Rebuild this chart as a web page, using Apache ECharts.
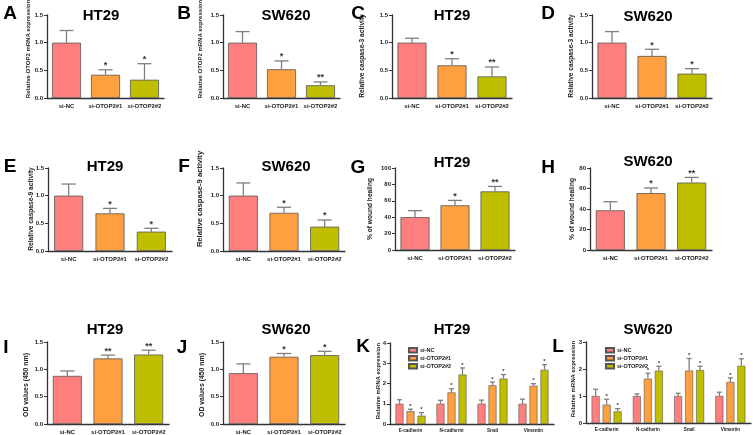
<!DOCTYPE html>
<html><head><meta charset="utf-8">
<script src="https://cdn.jsdelivr.net/npm/echarts@6/dist/echarts.min.js"></script>
<style>html,body{margin:0;padding:0;background:#fff}#c{width:753px;height:435px}</style>
</head><body><div id="c"></div>
<script>
// ---------------- DATA ----------------
const groups = ['si-NC', 'si-OTOP2#1', 'si-OTOP2#2'];
const genes = ['E-cadherin', 'N-cadherin', 'Snail', 'Vimentin'];

// A: OTOP2 mRNA, HT29
const otop2HT29Mean = [1.00, 0.42, 0.33];
const otop2HT29Err  = [0.22, 0.09, 0.29];
const otop2HT29Sig  = ['', '*', '*'];
// B: OTOP2 mRNA, SW620
const otop2SW620Mean = [1.00, 0.52, 0.23];
const otop2SW620Err  = [0.20, 0.15, 0.06];
const otop2SW620Sig  = ['', '*', '**'];
// C: caspase-3, HT29
const casp3HT29Mean = [1.00, 0.59, 0.39];
const casp3HT29Err  = [0.08, 0.12, 0.17];
const casp3HT29Sig  = ['', '*', '**'];
// D: caspase-3, SW620
const casp3SW620Mean = [1.00, 0.76, 0.44];
const casp3SW620Err  = [0.20, 0.12, 0.09];
const casp3SW620Sig  = ['', '*', '*'];
// E: caspase-9, HT29
const casp9HT29Mean = [1.00, 0.68, 0.35];
const casp9HT29Err  = [0.21, 0.09, 0.06];
const casp9HT29Sig  = ['', '*', '*'];
// F: caspase-9, SW620
const casp9SW620Mean = [1.00, 0.69, 0.44];
const casp9SW620Err  = [0.23, 0.10, 0.12];
const casp9SW620Sig  = ['', '*', '*'];
// G: wound healing, HT29
const woundHT29Mean = [40.0, 54.5, 71.5];
const woundHT29Err  = [8.0, 6.0, 6.0];
const woundHT29Sig  = ['', '*', '**'];
// H: wound healing, SW620
const woundSW620Mean = [38.7, 55.5, 65.8];
const woundSW620Err  = [8.4, 5.0, 5.0];
const woundSW620Sig  = ['', '*', '**'];
// I: OD values, HT29
const odHT29Mean = [0.88, 1.20, 1.27];
const odHT29Err  = [0.09, 0.06, 0.08];
const odHT29Sig  = ['', '**', '**'];
// J: OD values, SW620
const odSW620Mean = [0.93, 1.23, 1.26];
const odSW620Err  = [0.17, 0.06, 0.07];
const odSW620Sig  = ['', '*', '*'];

// K: EMT markers, HT29 (per group, over genes)
const emtHT29NC    = [1.00, 1.00, 1.00, 1.00];
const emtHT29NCErr = [0.20, 0.17, 0.18, 0.23];
const emtHT29S1    = [0.63, 1.56, 1.91, 1.89];
const emtHT29S1Err = [0.10, 0.18, 0.16, 0.10];
const emtHT29S2    = [0.41, 2.44, 2.24, 2.68];
const emtHT29S2Err = [0.15, 0.33, 0.20, 0.25];
// L: EMT markers, SW620
const emtSW620NC    = [1.00, 1.00, 1.00, 1.00];
const emtSW620NCErr = [0.25, 0.08, 0.10, 0.14];
const emtSW620S1    = [0.68, 1.64, 1.94, 1.52];
const emtSW620S1Err = [0.20, 0.20, 0.45, 0.15];
const emtSW620S2    = [0.43, 1.94, 1.96, 2.12];
const emtSW620S2Err = [0.10, 0.16, 0.14, 0.26];
const emtSig = ['', '*', '*'];

// ---------------- STYLE / LAYOUT ----------------
const FONT = '"Liberation Sans", Arial, Helvetica, sans-serif';
const colors = ['#FF7F7F', '#FFA040', '#BFBF00'];
const axisColor = '#333';
const errColor = '#7f7f7f';
const txt = '#222';

const simplePanels = [
  {letter:'A', lx:10, ly:14, title:'HT29', tx:101, ty:16, grid:[47,15,117,83], yName:'Relative OTOP2 mRNA expression', nx:28, ny:49, nfs:6, max:1.5, step:0.5, dec:1, mean:otop2HT29Mean, err:otop2HT29Err, sig:otop2HT29Sig},
  {letter:'B', lx:184, ly:14, title:'SW620', tx:286, ty:16, grid:[223,15,117,83], yName:'Relative OTOP2 mRNA expression', nx:200, ny:49, nfs:6, max:1.5, step:0.5, dec:1, mean:otop2SW620Mean, err:otop2SW620Err, sig:otop2SW620Sig},
  {letter:'C', lx:358, ly:14, title:'HT29', tx:452, ty:16, grid:[392,15,120,83], yName:'Relative caspase-3 activity', nx:362, ny:56, nfs:6.6, max:1.5, step:0.5, dec:1, mean:casp3HT29Mean, err:casp3HT29Err, sig:casp3HT29Sig},
  {letter:'D', lx:548, ly:14, title:'SW620', tx:648, ty:17, grid:[592,15,120,83], yName:'Relative caspase-3 activity', nx:571, ny:56, nfs:6.6, max:1.5, step:0.5, dec:1, mean:casp3SW620Mean, err:casp3SW620Err, sig:casp3SW620Sig},
  {letter:'E', lx:10, ly:167, title:'HT29', tx:105, ty:167, grid:[48,168,124,83], yName:'Relative caspase-9 activity', nx:31, ny:209, nfs:6.6, max:1.5, step:0.5, dec:1, mean:casp9HT29Mean, err:casp9HT29Err, sig:casp9HT29Sig},
  {letter:'F', lx:184, ly:167, title:'SW620', tx:286, ty:167, grid:[223,168,122,83], yName:'Relative caspase-9 activity', nx:200, ny:199, nfs:7.6, max:1.5, step:0.5, dec:1, mean:casp9SW620Mean, err:casp9SW620Err, sig:casp9SW620Sig},
  {letter:'G', lx:358, ly:168, title:'HT29', tx:452, ty:163, grid:[395,168,120,82], yName:'% of wound healing', nx:370, ny:209, nfs:6.6, max:100, step:20, dec:0, mean:woundHT29Mean, err:woundHT29Err, sig:woundHT29Sig},
  {letter:'H', lx:548, ly:168, title:'SW620', tx:648, ty:162, grid:[590,168,122,82], yName:'% of wound healing', nx:572, ny:209, nfs:6.6, max:80, step:20, dec:0, mean:woundSW620Mean, err:woundSW620Err, sig:woundSW620Sig},
  {letter:'I', lx:6, ly:348, title:'HT29', tx:105, ty:330, grid:[47,342,122,83], yName:'OD values (450 nm)', nx:26, ny:385, nfs:6.9, max:1.5, step:0.5, dec:1, mean:odHT29Mean, err:odHT29Err, sig:odHT29Sig},
  {letter:'J', lx:182, ly:348, title:'SW620', tx:286, ty:330, grid:[223,342,122,83], yName:'OD values (450 nm)', nx:202, ny:385, nfs:6.9, max:1.5, step:0.5, dec:1, mean:odSW620Mean, err:odSW620Err, sig:odSW620Sig}
];

const groupPanels = [
  {letter:'K', lx:363, ly:347, title:'HT29', tx:452, ty:330, grid:[390,343,164,81], yName:'Relative mRNA expression', nx:378, ny:381, nfs:6, max:4, step:1, dec:0, legendLeft:403,
   means:[emtHT29NC, emtHT29S1, emtHT29S2], errs:[emtHT29NCErr, emtHT29S1Err, emtHT29S2Err]},
  {letter:'L', lx:558, ly:347, title:'SW620', tx:648, ty:330, grid:[586,342,165,81], yName:'Relative mRNA expression', nx:573, ny:379, nfs:6, max:3, step:1, dec:0, legendLeft:600,
   means:[emtSW620NC, emtSW620S1, emtSW620S2], errs:[emtSW620NCErr, emtSW620S1Err, emtSW620S2Err]}
];

// ---------------- BUILD ----------------
const option = {animation:false, backgroundColor:'#fff', grid:[], xAxis:[], yAxis:[], series:[], graphic:[], legend:[]};

function errRenderer(sig, offset, capHalf, starFont, starGap) {
  return function (params, api) {
    const x = api.value(0), v = api.value(1), top = api.value(2);
    const p0 = api.coord([x, v]);
    const p1 = api.coord([x, top]);
    const cx = p0[0] + offset;
    const st = {stroke: errColor, lineWidth: 1.3};
    const ch = [
      {type:'line', shape:{x1:cx, y1:p0[1], x2:cx, y2:p1[1]}, style:st},
      {type:'line', shape:{x1:cx-capHalf, y1:p1[1], x2:cx+capHalf, y2:p1[1]}, style:st}
    ];
    const s = sig[params.dataIndex];
    if (s) ch.push({type:'text', style:{text:s, x:cx, y:p1[1]-starGap, align:'center', verticalAlign:'middle', font:'bold ' + starFont + 'px ' + FONT, fill:'#333'}});
    return {type:'group', children:ch};
  };
}

function addAxes(p, idx, cats, xfs, xm) {
  option.grid.push({left:p.grid[0], top:p.grid[1], width:p.grid[2], height:p.grid[3]});
  option.xAxis.push({type:'category', gridIndex:idx, data:cats,
    axisLine:{lineStyle:{color:axisColor, width:1.3}}, axisTick:{show:false},
    axisLabel:{interval:0, fontSize:xfs, fontWeight:'bold', color:txt, margin:xm, fontFamily:FONT}});
  option.yAxis.push({type:'value', gridIndex:idx, min:0, max:p.max, interval:p.step,
    axisLine:{show:true, lineStyle:{color:axisColor, width:1.3}},
    axisTick:{show:true, length:3, lineStyle:{color:axisColor, width:1}},
    splitLine:{show:false},
    axisLabel:{fontSize:6, fontWeight:'bold', color:txt, margin:4, fontFamily:FONT, formatter:(v)=>v.toFixed(p.dec)}});
  option.graphic.push(
    {type:'text', x:p.lx, y:p.ly, style:{text:p.letter, align:'center', verticalAlign:'middle', font:'bold 19px ' + FONT, fill:'#000'}},
    {type:'text', x:p.tx, y:p.ty, style:{text:p.title, align:'center', verticalAlign:'middle', font:'bold 15px ' + FONT, fill:'#000'}},
    {type:'text', x:p.nx, y:p.ny, rotation:Math.PI/2, style:{text:p.yName, align:'center', verticalAlign:'middle', font:'bold ' + p.nfs + 'px ' + FONT, fill:txt}}
  );
}

let idx = 0;
simplePanels.forEach(p => {
  addAxes(p, idx, groups, 6, 5);
  option.series.push({type:'bar', xAxisIndex:idx, yAxisIndex:idx, barWidth:29, z:2,
    itemStyle:{borderColor:'#555', borderWidth:0.8},
    data:p.mean.map((v,i)=>({value:v, itemStyle:{color:colors[i]}}))});
  option.series.push({type:'custom', xAxisIndex:idx, yAxisIndex:idx, z:3,
    encode:{x:0, y:[1,2]},
    data:p.mean.map((v,i)=>[i, v, v + p.err[i]]),
    renderItem:errRenderer(p.sig, 0, 7, 9, 4)});
  idx++;
});

groupPanels.forEach(p => {
  addAxes(p, idx, genes, 4.6, 4);
  p.means.forEach((m, j) => {
    option.series.push({type:'bar', name:groups[j], xAxisIndex:idx, yAxisIndex:idx, barWidth:8, barGap:'37.5%', z:2,
      itemStyle:{color:colors[j], borderColor:'#555', borderWidth:0.6},
      data:m.slice()});
  });
  p.means.forEach((m, j) => {
    const sig = m.map(() => emtSig[j]);
    option.series.push({type:'custom', xAxisIndex:idx, yAxisIndex:idx, z:3,
      encode:{x:0, y:[1,2]},
      data:m.map((v,i)=>[i, v, v + p.errs[j][i]]),
      renderItem:errRenderer(sig, (j-1)*11, 2.5, 6, 3)});
  });
  option.legend.push({data:groups, orient:'vertical', left:p.legendLeft, top:342, icon:'rect',
    itemWidth:8, itemHeight:4.5, itemGap:1.5, selectedMode:false,
    textStyle:{fontSize:5.5, fontWeight:'bold', color:txt, fontFamily:FONT, lineHeight:6, padding:[0,0,0,-2]}});
  idx++;
});

const chart = echarts.init(document.getElementById('c'), null, {renderer:'canvas', width:753, height:435});
chart.setOption(option);
</script>
</body></html>
